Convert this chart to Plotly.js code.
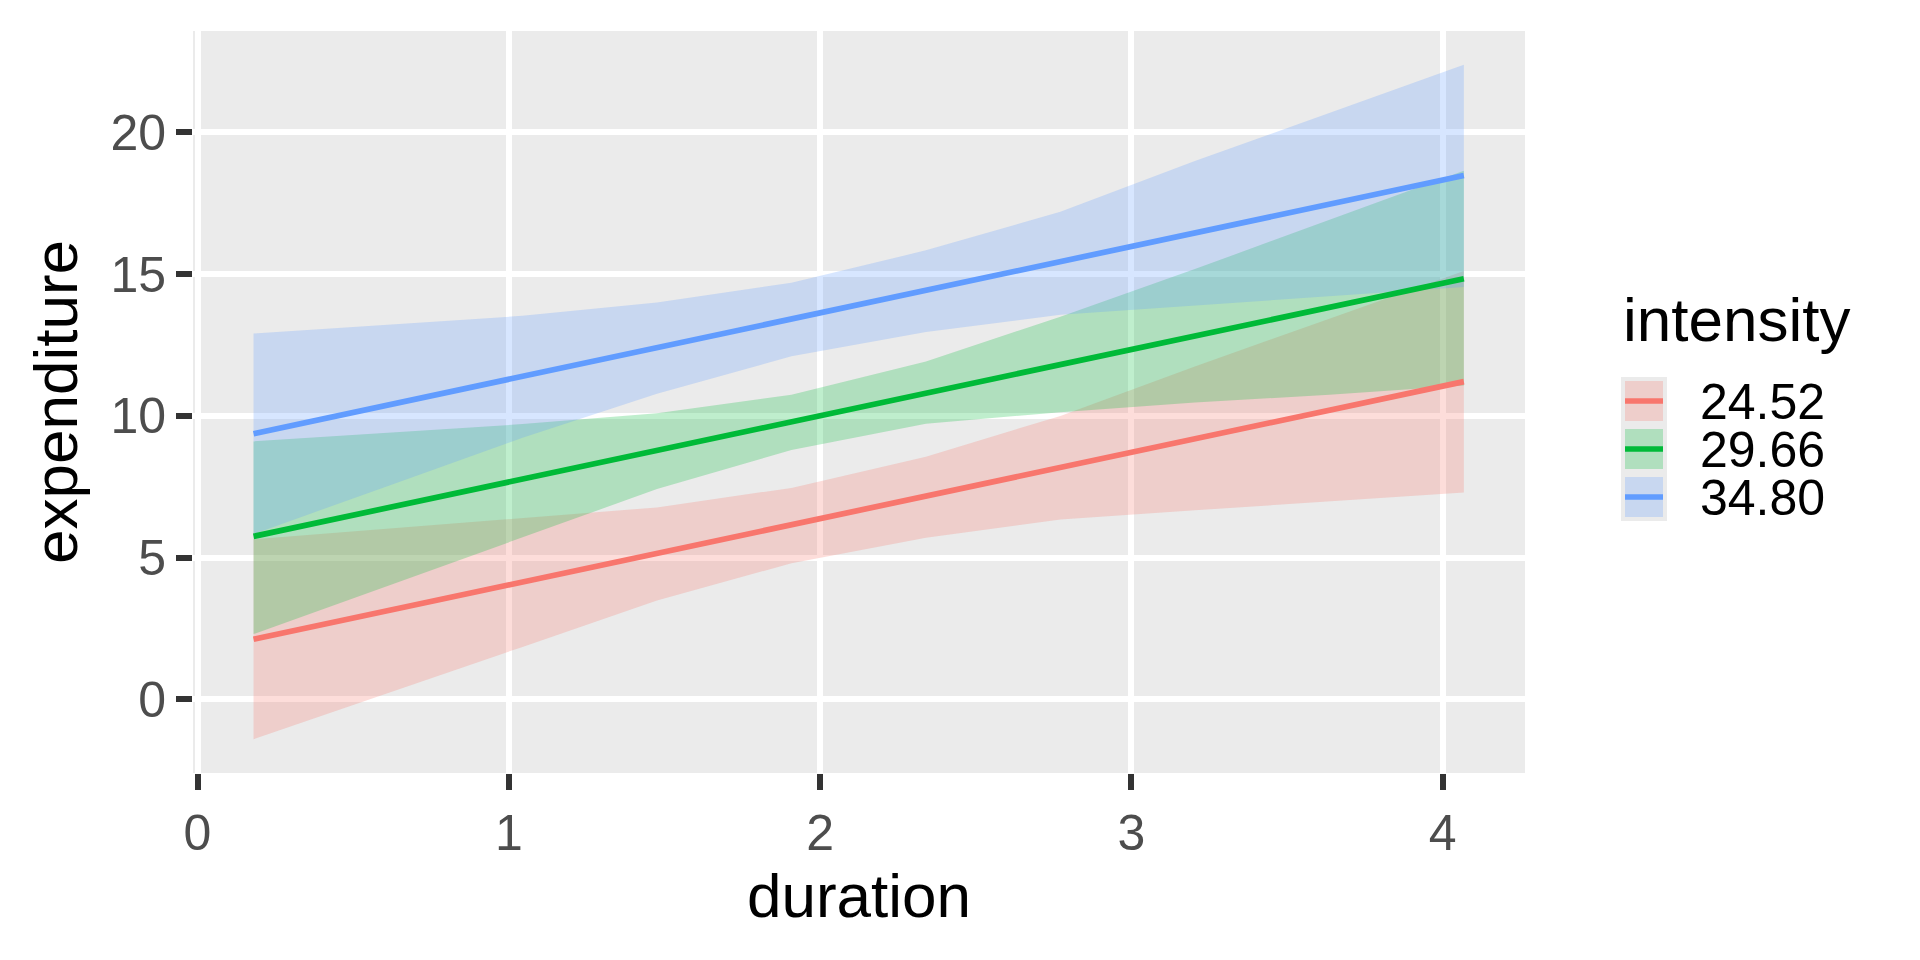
<!DOCTYPE html>
<html>
<head>
<meta charset="utf-8">
<script src="https://cdn.plot.ly/plotly-3.0.1.min.js"></script>
<style>
  html, body { margin: 0; padding: 0; background: #ffffff; }
  #chart { width: 1920px; height: 960px; }
</style>
</head>
<body>
<div id="chart"></div>
<script>
// x positions where the smooth was evaluated
const duration = [0.18, 0.612, 1.044, 1.476, 1.908, 2.34, 2.772, 3.204, 3.636, 4.068];

// legend levels + ggplot hue colours
const intensityLevels = ['24.52', '29.66', '34.80'];
const lineColors = ['#F8766D', '#00BA38', '#619CFF'];
const fillColors = ['rgba(248,118,109,0.25)', 'rgba(0,186,56,0.25)', 'rgba(97,156,255,0.25)'];

// fitted lines
const fit2452 = [2.12, 3.13, 4.14, 5.15, 6.16, 7.17, 8.18, 9.19, 10.20, 11.21];
const fit2966 = [5.75, 6.76, 7.77, 8.78, 9.79, 10.80, 11.81, 12.82, 13.83, 14.84];
const fit3480 = [9.37, 10.38, 11.39, 12.41, 13.42, 14.43, 15.44, 16.45, 17.47, 18.48];

// confidence bands
const lower2452 = [-1.41, 0.22, 1.85, 3.49, 4.80, 5.70, 6.34, 6.67, 6.99, 7.30];
const upper2452 = [5.65, 6.02, 6.40, 6.77, 7.46, 8.56, 10.00, 11.74, 13.43, 15.11];
const lower2966 = [2.30, 4.00, 5.71, 7.42, 8.80, 9.72, 10.13, 10.47, 10.75, 11.07];
const upper2966 = [9.10, 9.40, 9.71, 10.09, 10.75, 11.92, 13.50, 15.18, 16.91, 18.65];
const lower3480 = [5.83, 7.53, 9.23, 10.78, 12.10, 12.96, 13.57, 13.91, 14.23, 14.55];
const upper3480 = [12.91, 13.22, 13.53, 14.00, 14.70, 15.84, 17.20, 18.99, 20.70, 22.39];

const xTicks = [0, 1, 2, 3, 4];
const yTicks = [0, 5, 10, 15, 20];

const fits = [fit2452, fit2966, fit3480];
const lowers = [lower2452, lower2966, lower3480];
const uppers = [upper2452, upper2966, upper3480];

// page geometry (pixels)
const W = 1920, H = 960;
const M = { l: 193, r: 395, t: 31, b: 187 };
const pw = W - M.l - M.r, ph = H - M.t - M.b;
const fx = x => (x - M.l) / pw;
const fy = y => (H - M.b - y) / ph;

const font = 'Arial, "Liberation Sans", "DejaVu Sans", sans-serif';

// all ribbons first, lines on top
const ribbons = intensityLevels.map((lvl, i) => ({
    x: duration.concat(duration.slice().reverse()),
    y: uppers[i].concat(lowers[i].slice().reverse()),
    type: 'scatter', mode: 'lines', fill: 'toself',
    fillcolor: fillColors[i], line: { width: 0, color: 'rgba(0,0,0,0)' },
    hoverinfo: 'skip', name: lvl
}));
const lines = intensityLevels.map((lvl, i) => ({
    x: duration, y: fits[i],
    type: 'scatter', mode: 'lines',
    line: { color: lineColors[i], width: 5.7 },
    name: lvl
}));

// hand-drawn legend (ggplot style keys)
const shapes = [{
    type: 'rect', xref: 'paper', yref: 'paper',
    x0: fx(1621), x1: fx(1667), y0: fy(521), y1: fy(377),
    fillcolor: '#EBEBEB', line: { width: 0 }, layer: 'above'
}];
const annotations = [{
    text: 'intensity', xref: 'paper', yref: 'paper',
    x: fx(1621), y: fy(319), xanchor: 'left', yanchor: 'middle',
    showarrow: false, font: { family: font, size: 62, color: '#000000' }
}];
intensityLevels.forEach((lvl, i) => {
    const cy = 401 + 48 * i;
    shapes.push({
        type: 'rect', xref: 'paper', yref: 'paper',
        x0: fx(1625), x1: fx(1663), y0: fy(cy + 20), y1: fy(cy - 20),
        fillcolor: fillColors[i], line: { width: 0 }, layer: 'above'
    });
    shapes.push({
        type: 'line', xref: 'paper', yref: 'paper',
        x0: fx(1625), x1: fx(1663), y0: fy(cy), y1: fy(cy),
        line: { color: lineColors[i], width: 5.7 }, layer: 'above'
    });
    annotations.push({
        text: lvl, xref: 'paper', yref: 'paper',
        x: fx(1698), y: fy(cy + 1), xanchor: 'left', yanchor: 'middle',
        showarrow: false, font: { family: font, size: 50, color: '#000000' }
    });
});

const axisBase = {
    ticks: 'outside', ticklen: 16, tickwidth: 6, tickcolor: '#333333',
    tickfont: { family: font, size: 50, color: '#4D4D4D' },
    showgrid: true, gridcolor: '#FFFFFF', gridwidth: 6,
    zeroline: false, showline: false, fixedrange: true
};

const layout = {
    width: W, height: H,
    margin: { l: M.l, r: M.r, t: M.t, b: M.b, pad: 0 },
    paper_bgcolor: '#FFFFFF',
    plot_bgcolor: '#EBEBEB',
    showlegend: false,
    font: { family: font },
    xaxis: {
        ...axisBase,
        range: [-0.0145, 4.2645],
        tickmode: 'array', tickvals: xTicks, ticktext: xTicks.map(String),
        title: { text: 'duration', font: { family: font, size: 62, color: '#000000' }, standoff: 10 }
    },
    yaxis: {
        ...axisBase,
        range: [-2.6, 23.58],
        tickmode: 'array', tickvals: yTicks, ticktext: yTicks.map(String),
        title: { text: 'expenditure', font: { family: font, size: 62, color: '#000000' }, standoff: 12 }
    },
    shapes: shapes,
    annotations: annotations
};

Plotly.newPlot('chart', ribbons.concat(lines), layout, { displayModeBar: false, staticPlot: true });
</script>
</body>
</html>
